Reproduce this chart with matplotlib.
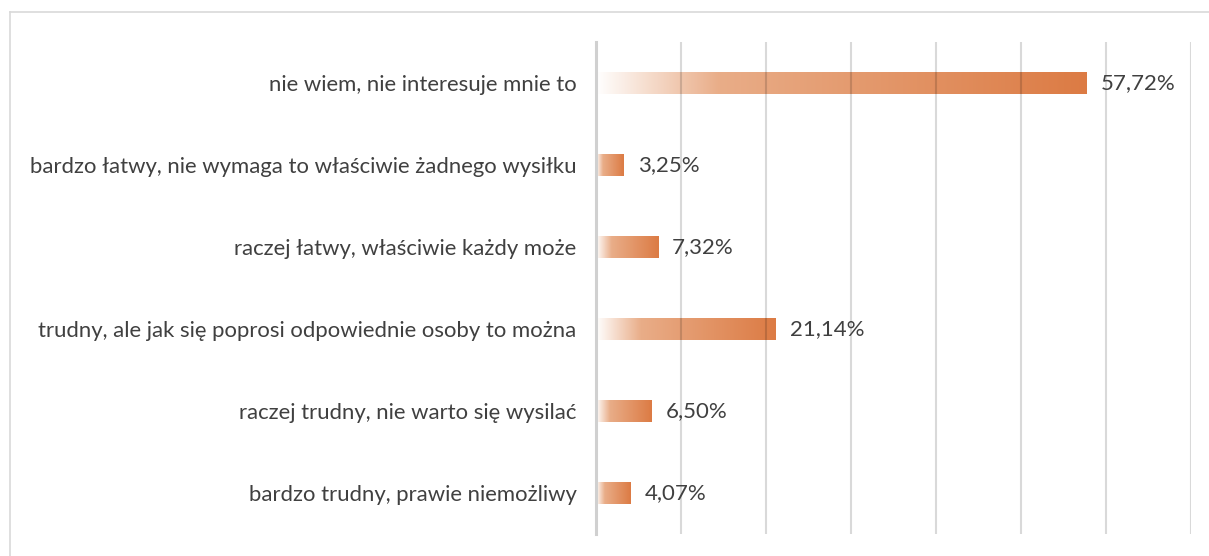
import numpy as np
import matplotlib.pyplot as plt
from matplotlib.colors import LinearSegmentedColormap
from matplotlib.lines import Line2D

# answers (top to bottom) and their shares in %
categories = [
    "nie wiem, nie interesuje mnie to",
    "bardzo łatwy, nie wymaga to właściwie żadnego wysiłku",
    "raczej łatwy, właściwie każdy może",
    "trudny, ale jak się poprosi odpowiednie osoby to można",
    "raczej trudny, nie warto się wysilać",
    "bardzo trudny, prawie niemożliwy",
]
values = [57.72, 3.25, 7.32, 21.14, 6.50, 4.07]
labels = ["57,72%", "3,25%", "7,32%", "21,14%", "6,50%", "4,07%"]

plt.rcParams['font.family'] = ['Lato', 'DejaVu Sans']

fig = plt.figure(figsize=(12.09, 5.56), dpi=100)
ax = fig.add_axes([596 / 1209, 1 - 534 / 556, (1191 - 596) / 1209, (534 - 42) / 556])

# gradient: white on the left, light orange, then full orange at the bar end
cmap = LinearSegmentedColormap.from_list(
    "grad", [(0.0, "#ffffff"), (0.25, "#e9ad88"), (1.0, "#dc7b44")])
grad = np.linspace(0, 1, 256).reshape(1, -1)

y = np.arange(len(categories))
bars = ax.barh(y, values, height=0.26, color="none", edgecolor="none")
for bar in bars:
    x0, y0 = bar.get_x(), bar.get_y()
    w, h = bar.get_width(), bar.get_height()
    im = ax.imshow(grad, cmap=cmap, aspect="auto", extent=(x0, x0 + w, y0, y0 + h),
                   interpolation="bilinear", zorder=1)
    im.set_clip_path(bar)

for yi, v, lab in zip(y, values, labels):
    ax.text(v + 1.65, yi, lab, va="center", ha="left", fontsize=16, color="#404040")

ax.set_xlim(0, 70)
ax.set_ylim(len(categories) - 0.5, -0.5)
ax.set_yticks(y)
ax.set_yticklabels(categories, fontsize=15.9, color="#404040")
ax.tick_params(axis="y", length=0, pad=14)
ax.set_xticks(np.arange(10, 71, 10))
ax.tick_params(axis="x", length=0, labelbottom=False)
ax.grid(axis="x", color="black", alpha=0.15, linewidth=1.5, zorder=3)
ax.set_axisbelow(False)
for s in ["top", "right", "bottom"]:
    ax.spines[s].set_visible(False)
ax.spines["left"].set_color("#d0d0d0")
ax.spines["left"].set_linewidth(2.2)

# outer chart frame (top and left edges are visible)
fig.add_artist(Line2D([10 / 1209, 1], [1 - 12 / 556, 1 - 12 / 556], color="#d9d9d9", linewidth=1.2))
fig.add_artist(Line2D([10 / 1209, 10 / 1209], [0, 1 - 12 / 556], color="#d9d9d9", linewidth=1.2))

fig.savefig("out.png", dpi=100)
